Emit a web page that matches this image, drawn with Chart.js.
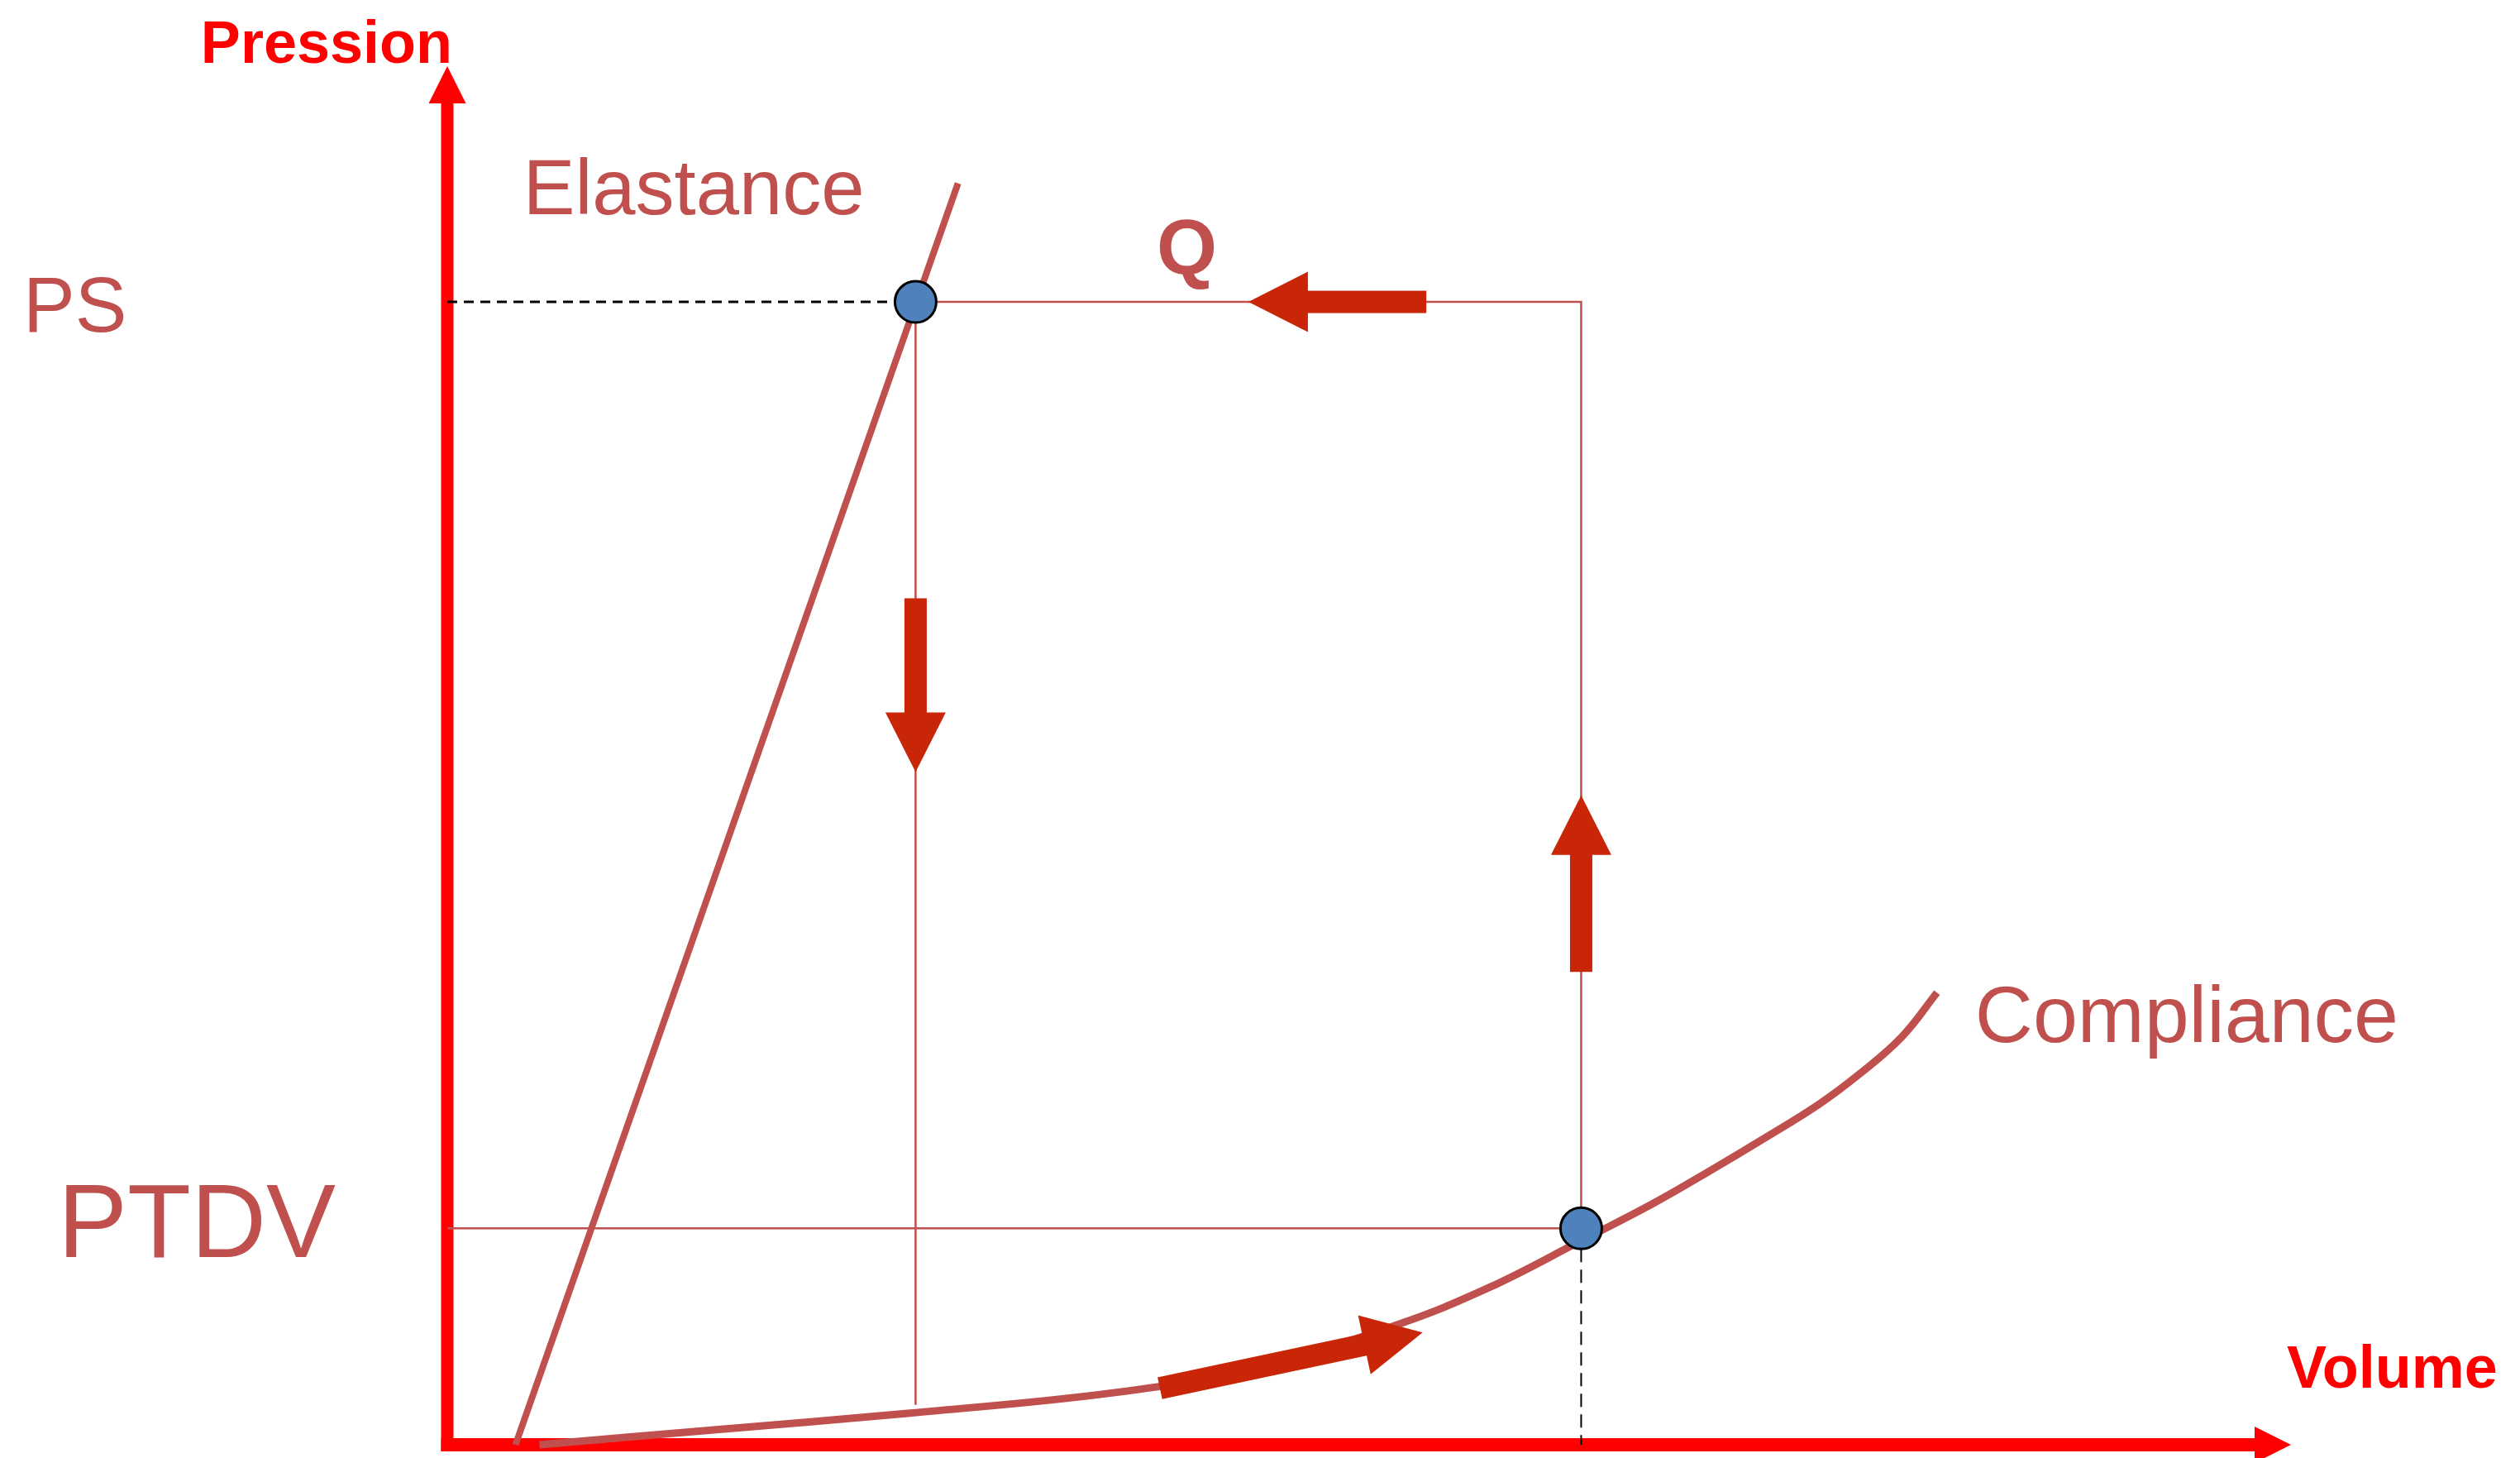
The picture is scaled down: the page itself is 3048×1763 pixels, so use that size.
<!DOCTYPE html>
<html lang="fr">
<head>
<meta charset="utf-8">
<title>Boucle pression-volume</title>
<script src="https://cdn.jsdelivr.net/npm/chart.js@4.4.1/dist/chart.umd.min.js"></script>
<style>
  html, body { margin: 0; padding: 0; background: #fff; overflow: hidden; }
  canvas { display: block; }
</style>
</head>
<body>
<canvas id="pvChart" width="3048" height="1763"></canvas>
<script>
// Boucle pression-volume : élastance, compliance et sens du cycle
const FONT = '"Liberation Sans", Arial, Helvetica, sans-serif';
const AXIS_RED = '#FF0000';
const CURVE_RED = '#C0504D';
const ARROW_RED = '#C92607';
const DOT_BLUE = '#4F81BD';

// Points clés de la boucle
const PS = 82.9;          // pression systolique
const PTDV = 15.7;        // pression télédiastolique
const VTS = 25.4;         // volume télésystolique
const VTD = 61.5;         // volume télédiastolique
const VTS_BOTTOM = 2.9;   // bas du trait vertical sous PS

// Droite d'élastance
const elastanceX = [3.7, 27.7];
const elastanceY = [0, 91.5];

// Courbe de compliance
const complianceX = [5.0, 14.6, 25.1, 36.3, 43.9, 51.5, 56.5, 61.5, 65.4, 68.4, 71.4, 74.4, 76.6, 78.9, 80.8];
const complianceY = [0, 1.1, 2.3, 3.8, 5.6, 8.7, 11.4, 14.8, 17.5, 19.8, 22.2, 24.7, 26.9, 29.6, 32.8];

// Flèches du cycle : départ -> pointe
const arrowFromX = [53.1, VTS, 38.65, VTD];
const arrowFromY = [PS, 61.4, 4.1, 34.3];
const arrowToX = [43.45, VTS, 52.9, VTD];
const arrowToY = [PS, 48.8, 8.15, 47.1];

const toPoints = (xs, ys) => xs.map((v, i) => ({ x: v, y: ys[i] }));

function triangle(ctx, ax, ay, bx, by, cx, cy) {
    ctx.beginPath();
    ctx.moveTo(ax, ay);
    ctx.lineTo(bx, by);
    ctx.lineTo(cx, cy);
    ctx.closePath();
    ctx.fill();
}

// grosse flèche pleine : corps + pointe triangulaire
function fatArrow(ctx, ax, ay, bx, by) {
    const len = Math.hypot(bx - ax, by - ay);
    const ang = Math.atan2(by - ay, bx - ax);
    const head = 72, halfHead = 36.5, halfBody = 13.5;
    ctx.save();
    ctx.translate(ax, ay);
    ctx.rotate(ang);
    ctx.fillRect(0, -halfBody, len - head + 1, halfBody * 2);
    triangle(ctx, len, 0, len - head, -halfHead, len - head, halfHead);
    ctx.restore();
}

const schemaPlugin = {
    id: 'schema',
    // axes rouges avec flèches, sous les courbes
    beforeDatasetsDraw(chart) {
        const { ctx, scales: { x, y } } = chart;
        const x0 = x.getPixelForValue(0), y0 = y.getPixelForValue(0);
        const xEnd = x.getPixelForValue(100), yEnd = y.getPixelForValue(100);
        ctx.save();
        ctx.fillStyle = AXIS_RED;
        ctx.fillRect(x0 - 7.5, yEnd + 45, 15, y0 + 8 - (yEnd + 45));
        triangle(ctx, x0, yEnd, x0 - 22.5, yEnd + 45, x0 + 22.5, yEnd + 45);
        ctx.fillRect(x0 - 7.5, y0 - 8, xEnd - 44 - (x0 - 7.5), 16);
        triangle(ctx, xEnd, y0, xEnd - 44, y0 - 22, xEnd - 44, y0 + 22);
        ctx.restore();
    },
    afterDatasetsDraw(chart) {
        const { ctx, scales: { x, y } } = chart;
        ctx.save();
        ctx.fillStyle = ARROW_RED;
        arrowFromX.forEach((fx, i) => {
            fatArrow(ctx,
                x.getPixelForValue(fx), y.getPixelForValue(arrowFromY[i]),
                x.getPixelForValue(arrowToX[i]), y.getPixelForValue(arrowToY[i]));
        });
        ctx.restore();
    },
    afterDraw(chart) {
        const { ctx, scales: { x, y } } = chart;
        const x0 = x.getPixelForValue(0), y0 = y.getPixelForValue(0);
        const xEnd = x.getPixelForValue(100), yEnd = y.getPixelForValue(100);
        const elTopX = x.getPixelForValue(elastanceX[1]), elTopY = y.getPixelForValue(elastanceY[1]);
        const last = complianceX.length - 1;
        const coEndX = x.getPixelForValue(complianceX[last]), coEndY = y.getPixelForValue(complianceY[last]);
        const yPS = y.getPixelForValue(PS), yPTDV = y.getPixelForValue(PTDV);

        ctx.save();
        ctx.textBaseline = 'alphabetic';

        // titres des axes
        ctx.fillStyle = AXIS_RED;
        ctx.font = `bold 72px ${FONT}`;
        ctx.textAlign = 'right';
        ctx.fillText('Pression', x0 + 6, yEnd - 4);
        ctx.textAlign = 'left';
        ctx.fillText('Volume', xEnd - 5, y0 - 69);

        // étiquettes des courbes et des pressions
        ctx.fillStyle = CURVE_RED;
        ctx.font = `94px ${FONT}`;
        ctx.fillText('PS', 28, yPS + 36);
        ctx.fillText('Elastance', elTopX - 526, elTopY + 37);
        ctx.font = `126px ${FONT}`;
        ctx.fillText('PTDV', 70, yPTDV + 35);
        ctx.font = `97px ${FONT}`;
        ctx.fillText('Compliance', coEndX + 46, coEndY + 60);
        ctx.font = `bold 94px ${FONT}`;
        ctx.fillText('Q', 1399, yPS - 34);
        ctx.restore();
    }
};

new Chart(document.getElementById('pvChart'), {
    type: 'scatter',
    data: {
        datasets: [
            {
                // points PS et PTDV
                data: [{ x: VTS, y: PS }, { x: VTD, y: PTDV }],
                showLine: false,
                pointRadius: 25,
                pointBackgroundColor: DOT_BLUE,
                pointBorderColor: '#000000',
                pointBorderWidth: 3,
                order: 0,
                clip: false
            },
            {
                data: toPoints(complianceX, complianceY),
                showLine: true,
                borderColor: CURVE_RED,
                borderWidth: 9,
                tension: 0.4,
                pointRadius: 0,
                order: 2,
                clip: false
            },
            {
                data: toPoints(elastanceX, elastanceY),
                showLine: true,
                borderColor: CURVE_RED,
                borderWidth: 8,
                pointRadius: 0,
                order: 2,
                clip: false
            },
            {
                // contour de la boucle
                data: [
                    { x: VTS, y: VTS_BOTTOM }, { x: VTS, y: PS },
                    { x: VTD, y: PS }, { x: VTD, y: PTDV }, { x: 0, y: PTDV }
                ],
                showLine: true,
                borderColor: CURVE_RED,
                borderWidth: 2.5,
                pointRadius: 0,
                order: 3,
                clip: false
            },
            {
                data: [{ x: 0, y: PS }, { x: VTS, y: PS }],
                showLine: true,
                borderColor: '#000000',
                borderWidth: 3,
                borderDash: [12, 8],
                pointRadius: 0,
                order: 1,
                clip: false
            },
            {
                data: [{ x: VTD, y: PTDV }, { x: VTD, y: 0 }],
                showLine: true,
                borderColor: '#000000',
                borderWidth: 2,
                borderDash: [16, 9],
                pointRadius: 0,
                order: 1,
                clip: false
            }
        ]
    },
    options: {
        responsive: false,
        animation: false,
        devicePixelRatio: 1,
        events: [],
        layout: {
            autoPadding: false,
            padding: { left: 541, right: 277, top: 80, bottom: 16 }
        },
        scales: {
            x: { type: 'linear', min: 0, max: 100, display: false },
            y: { type: 'linear', min: 0, max: 100, display: false }
        },
        plugins: {
            legend: { display: false },
            tooltip: { enabled: false }
        }
    },
    plugins: [schemaPlugin]
});
</script>
</body>
</html>
